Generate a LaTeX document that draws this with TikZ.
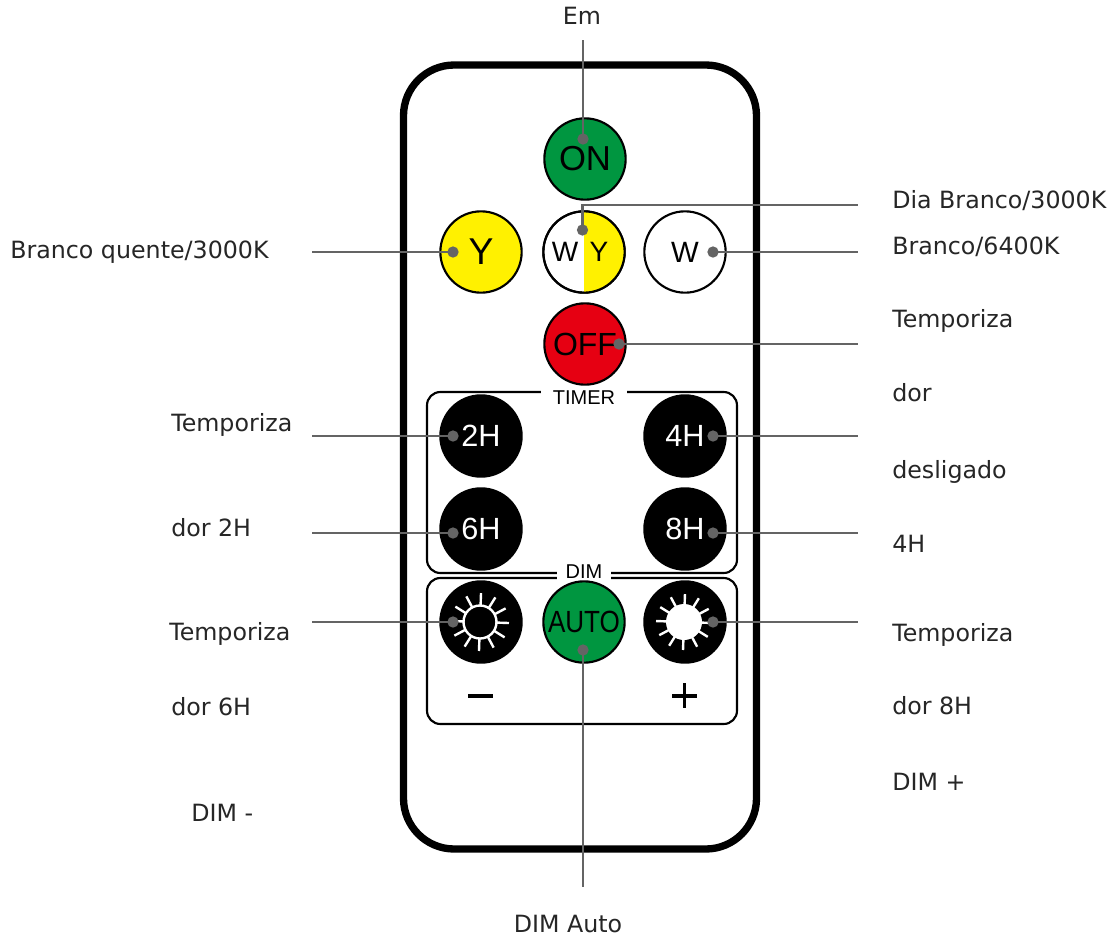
\documentclass[tikz,border=0pt]{standalone}
\usepackage{fontspec}
\setmainfont{DejaVu Sans}
\newfontfamily\btn{Liberation Sans}
\definecolor{pgreen}{RGB}{0,150,64}
\definecolor{pyellow}{RGB}{255,241,0}
\definecolor{pred}{RGB}{230,0,18}
\definecolor{lead}{RGB}{100,100,100}
\tikzset{x=0.75pt,y=-0.75pt,
 btnc/.style={circle,draw=black,line width=1.6pt,minimum size=61pt,inner sep=0pt,font=\btn\fontsize{24}{24}\selectfont},
 blackb/.style={btnc,fill=black,text=white,font=\btn\fontsize{23}{23}\selectfont},
 leadline/.style={draw=lead,line width=1.9pt},
 dot/.style={circle,fill=lead,minimum size=8.5pt,inner sep=0pt},
 lbl/.style={anchor=base west,inner sep=0pt,font=\fontsize{17.8}{17.8}\selectfont,text=black!85},
 lblc/.style={lbl,anchor=base},
 panel/.style={draw=black,line width=1.6pt,rounded corners=10pt},
 capt/.style={fill=white,inner sep=0pt,font=\btn\fontsize{15}{15}\selectfont},
 ray/.style={white,line width=1.8pt}}
\begin{document}
\begin{tikzpicture}
\useasboundingbox (0,0) rectangle (1111,936);
\fill[white] (0,0) rectangle (1111,936);
% body
\draw[black,line width=5.5pt,rounded corners=38pt] (403.5,65) rectangle (756.5,849);
% panels
\draw[panel] (427,392) rectangle (737,573);
\draw[panel] (427,578) rectangle (737,724);
\node[capt,minimum width=64.5pt,minimum height=15pt] (timercap) at (584,398) {TIMER};
\node[capt,minimum width=40pt,minimum height=18pt] (dimcap) at (584,572) {DIM};
% buttons
\node[btnc,fill=pgreen,font=\btn\fontsize{26}{26}\selectfont] (on) at (585,159) {ON};
\node[btnc,fill=pyellow,font=\btn\fontsize{28}{28}\selectfont] (y) at (481,252) {Y};
\node[btnc] (wy) at (584,252) {};
\fill[pyellow] (584,252) ++(0,-40) arc[start angle=-90,end angle=90,radius=40] -- cycle;
\node[circle,draw=black,line width=1.6pt,minimum size=61pt,inner sep=0pt] (wyring) at (584,252) {};
\node[font=\btn\fontsize{21}{21}\selectfont,inner sep=0pt] (wyw) at (565,252) {W};
\node[font=\btn\fontsize{21}{21}\selectfont,inner sep=0pt] (wyy) at (599,252) {Y};
\node[btnc,font=\btn\fontsize{22}{22}\selectfont] (w) at (685,252) {W};
\node[btnc,fill=pred] (off) at (585,344) {OFF};
\node[blackb] (h2) at (481,436) {2H};
\node[blackb] (h4) at (685,436) {4H};
\node[blackb] (h6) at (481,529) {6H};
\node[blackb] (h8) at (685,529) {8H};
\node[btnc,fill=pgreen,font=\btn\fontsize{23}{23}\selectfont] (auto) at (584,622) {\scalebox{0.85}[1]{AUTO}};
\node[blackb] (sm) at (481,622) {};
\node[blackb] (sp) at (685,622) {};
% suns
\foreach \a in {0,30,...,330}{
 \draw[ray] (480,622) ++(\a+2:17) -- ++(\a+2:12);
 \draw[ray] (684,622) ++(\a+2:16) -- ++(\a+2:12);
}
\draw[white,line width=1.8pt] (480,622) circle[radius=16.5];
\fill[white] (684,622) circle[radius=18];
\fill (468,693.5) rectangle (493,698);
\draw[line width=2.6pt] (672,696)--(697,696) (684.5,683)--(684.5,708);
% lead ends
\coordinate (eon) at (583,40);
\coordinate (ewyc) at (582.5,205);
\coordinate (ewy) at (858,205);
\coordinate (ew) at (858,252);
\coordinate (ey) at (312,252);
\coordinate (eoff) at (858,344);
\coordinate (eh2) at (312,436);
\coordinate (eh4) at (858,436);
\coordinate (eh6) at (312,533);
\coordinate (eh8) at (858,533);
\coordinate (esm) at (312,622);
\coordinate (esp) at (858,622);
\coordinate (eauto) at (583,887);
% dots
\node[dot] (don) at (583,139) {};
\node[dot] (dwy) at (582.5,230) {};
\node[dot] (dw) at (713,252) {};
\node[dot] (dy) at (453,252) {};
\node[dot] (doff) at (619,344) {};
\node[dot] (dh2) at (453,436) {};
\node[dot] (dh4) at (713,436) {};
\node[dot] (dh6) at (453,533) {};
\node[dot] (dh8) at (713,533) {};
\node[dot] (dsm) at (453,622) {};
\node[dot] (dsp) at (713,622) {};
\node[dot] (dauto) at (583,650) {};
% leads
\draw[leadline] (eon)--(don.center);
\draw[leadline] (dwy.center)--(ewyc)--(ewy);
\draw[leadline] (dw.center)--(ew);
\draw[leadline] (dy.center)--(ey);
\draw[leadline] (doff.center)--(eoff);
\draw[leadline] (dh2.center)--(eh2);
\draw[leadline] (dh4.center)--(eh4);
\draw[leadline] (dh6.center)--(eh6);
\draw[leadline] (dh8.center)--(eh8);
\draw[leadline] (dsm.center)--(esm);
\draw[leadline] (dsp.center)--(esp);
\draw[leadline] (dauto.center)--(eauto);
% labels
\node[lblc] (lon) at (582,24) {Em};
\node[lbl] (l1) at (892,208) {Dia Branco/3000K};
\node[lbl] (l2) at (892,254) {Branco/6400K};
\node[lbl] (l3) at (892,327) {Temporiza};
\node[lbl] (l4) at (892,401) {dor};
\node[lbl] (l5) at (892,478) {desligado};
\node[lbl] (l6) at (892,552) {4H};
\node[lbl] (l7) at (892,641) {Temporiza};
\node[lbl] (l8) at (892,714) {dor 8H};
\node[lbl] (l9) at (892,790) {DIM +};
\node[lbl] (r1) at (10,258) {Branco quente/3000K};
\node[lbl] (r2) at (171,431) {Temporiza};
\node[lbl] (r3) at (171,536) {dor 2H};
\node[lbl] (r4) at (169,640) {Temporiza};
\node[lbl] (r5) at (171,715) {dor 6H};
\node[lbl] (r6) at (191,821) {DIM -};
\node[lblc] (lauto) at (568,932) {DIM Auto};
\end{tikzpicture}
\end{document}
